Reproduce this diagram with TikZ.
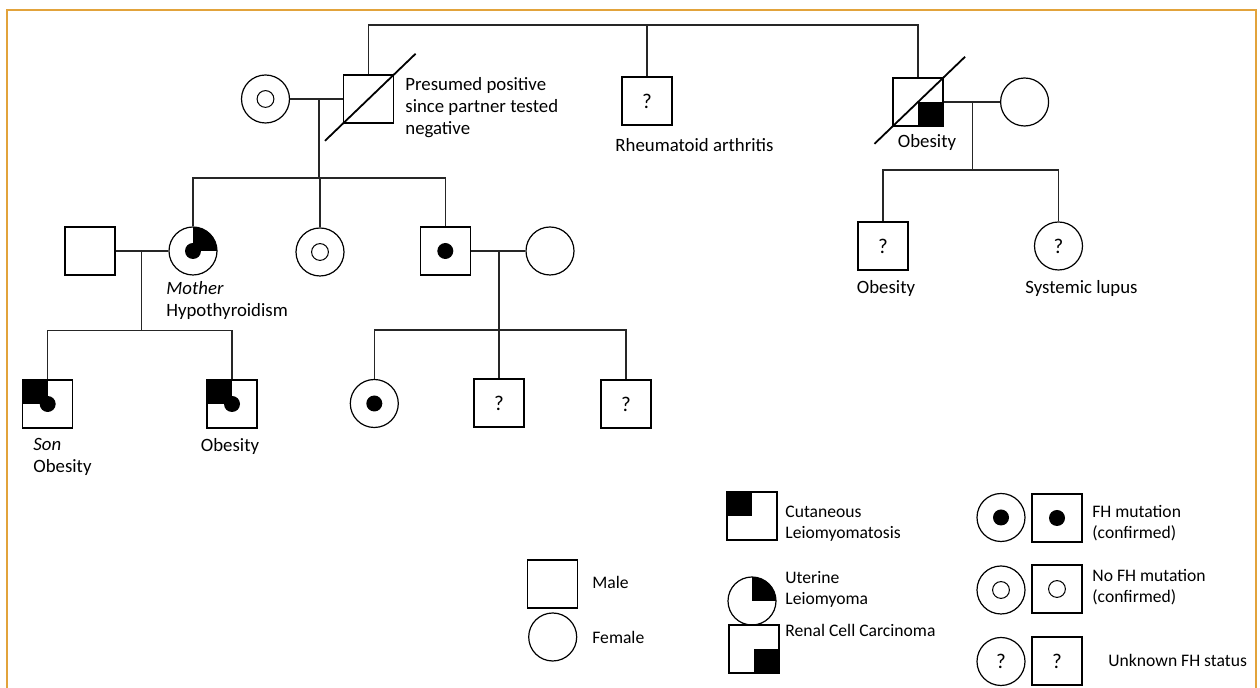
\documentclass[tikz,border=0pt]{standalone}
\usepackage{fontspec}
\setmainfont{Carlito}
\usetikzlibrary{calc}
\definecolor{framegold}{HTML}{E2A33B}
\tikzset{
  male/.style={draw, rectangle, line width=0.6pt, minimum width=25pt, minimum height=24pt,
    inner sep=0pt, font=\fontsize{10.5}{12}\selectfont},
  female/.style={draw, circle, line width=0.6pt, minimum size=24pt,
    inner sep=0pt, font=\fontsize{10.5}{12}\selectfont},
  fhpos/.style={path picture={\fill (path picture bounding box.center) circle (4pt);}},
  fhneg/.style={path picture={\draw[line width=0.5pt] (path picture bounding box.center) circle (4.2pt);}},
  cutan/.style={path picture={\fill (path picture bounding box.north west) rectangle (path picture bounding box.center);}},
  cutanpos/.style={path picture={
      \fill (path picture bounding box.north west) rectangle (path picture bounding box.center);
      \fill (path picture bounding box.center) circle (4pt);}},
  uter/.style={path picture={\fill (path picture bounding box.center) rectangle (path picture bounding box.north east);}},
  uterpos/.style={path picture={
      \fill (path picture bounding box.center) rectangle (path picture bounding box.north east);
      \fill (path picture bounding box.center) circle (4pt);}},
  renal/.style={path picture={\fill (path picture bounding box.center) rectangle (path picture bounding box.south east);}},
  txt/.style={font=\fontsize{9.4}{10.8}\selectfont, inner sep=0pt, align=left},
  legtxt/.style={txt, font=\fontsize{8.8}{10.6}\selectfont, anchor=west},
  link/.style={line width=0.55pt, black!85},
  slash/.style={line width=0.9pt},
  frame/.style={framegold, line width=1.2pt}
}
\begin{document}
\begin{tikzpicture}[x=0.5pt,y=-0.5pt]
  \useasboundingbox (0,0) rectangle (1260,688);
  \draw[frame] (7,688) -- (7,10) -- (1256,10) -- (1256,688);

  % generation I
  \node[female, fhneg] (g1f) at (265.5,99) {};
  \node[male] (g1m) at (368.5,99) {};
  \node[male] (g1u) at (647,101) {?};
  \node[male, renal] (g1r) at (918,102) {};
  \node[female] (g1rw) at (1024.6,102) {};

  % generation II
  \node[male] (g2h) at (90,251) {};
  \node[female, uterpos] (g2a) at (193,251) {};
  \node[female, fhneg] (g2c) at (320,252) {};
  \node[male, fhpos] (g2d) at (445.3,251) {};
  \node[female] (g2w) at (550,251) {};
  \node[male] (g2r1) at (883,246) {?};
  \node[female] (g2r2) at (1058.5,246) {?};

  % generation III
  \node[male, cutanpos] (g3a) at (47.7,404) {};
  \node[male, cutanpos] (g3b) at (232,404) {};
  \node[female, fhpos] (g3c) at (374.3,403.5) {};
  \node[male] (g3d) at (499,403) {?};
  \node[male] (g3e) at (626,404) {?};

  % deceased
  \draw[slash] ($(g1m.south west)!-0.35!(g1m.north east)$) -- ($(g1m.south west)!1.42!(g1m.north east)$);
  \draw[slash] ($(g1r.south west)!-0.35!(g1r.north east)$) -- ($(g1r.south west)!1.42!(g1r.north east)$);

  % lines
  \coordinate (top) at (644,25);
  \coordinate (m1) at (319,99);
  \coordinate (s1) at (319,178);
  \coordinate (m2) at (141.6,251);
  \coordinate (s2) at (141.6,330.7);
  \coordinate (m3) at (499,251);
  \coordinate (s3) at (499,330);
  \coordinate (m4) at (972.3,102);
  \coordinate (s4) at (972.3,170);
  \begin{scope}[link]
    \draw (g1m.north) |- (top) -| (g1r.north);
    \draw (g1u.north) -- (g1u.north |- top);
    \draw (g1f.east) -- (g1m.west);
    \draw (m1) -- (s1);
    \draw (g2a.north) |- (s1) -| (g2d.north);
    \draw (g2c.north) -- (g2c.north |- s1);
    \draw (g1r.east) -- (g1rw.west);
    \draw (m4) -- (s4);
    \draw (g2r1.north) |- (s4) -| (g2r2.north);
    \draw (g2h.east) -- (g2a.west);
    \draw (m2) -- (s2);
    \draw (g3a.north) |- (s2) -| (g3b.north);
    \draw (g2d.east) -- (g2w.west);
    \draw (m3) -- (s3) -- (g3d.north);
    \draw (g3c.north) |- (s3) -| (g3e.north);
  \end{scope}

  % labels
  \node[txt, anchor=west] (tpres) at (405,107.5) {Presumed positive\\since partner tested\\negative};
  \node[txt] (trheu) at (694.5,145) {Rheumatoid arthritis};
  \node[txt] (tob1) at (927,142) {Obesity};
  \node[txt, anchor=west] (tmoth) at (166,300.5) {\textit{Mother}\\Hypothyroidism};
  \node[txt, anchor=west] (tson) at (33,457) {\textit{Son}\\Obesity};
  \node[txt] (tob2) at (230,446) {Obesity};
  \node[txt] (tob3) at (886,288) {Obesity};
  \node[txt, anchor=west] (tlupus) at (1025,288) {Systemic lupus};

  % legend
  \node[male] (lgm) at (552.4,584) {};
  \node[female] (lgf) at (552.7,637) {};
  \node[male, cutan] (lgc) at (752,516) {};
  \node[female, uter] (lgu) at (752,601) {};
  \node[male, renal] (lgr) at (754,649) {};
  \node[female, fhpos] (lgfc) at (1001,517.5) {};
  \node[male, fhpos] (lgfs) at (1057,518) {};
  \node[female, fhneg] (lgnc) at (1001,590) {};
  \node[male, fhneg] (lgns) at (1057,589) {};
  \node[female] (lgqc) at (1001,661.5) {?};
  \node[male] (lgqs) at (1057,661) {?};
  \node[legtxt] (tmale) at (592,582) {Male};
  \node[legtxt] (tfem) at (592,637) {Female};
  \node[legtxt] (tcut) at (785,524) {Cutaneous\\Leiomyomatosis};
  \node[legtxt] (tute) at (785,589) {Uterine\\Leiomyoma};
  \node[legtxt] (tren) at (785,630) {Renal Cell Carcinoma};
  \node[legtxt] (tfh) at (1092,523) {FH mutation\\(confirmed)};
  \node[legtxt] (tnofh) at (1092,587) {No FH mutation\\(confirmed)};
  \node[legtxt] (tunk) at (1108,660) {Unknown FH status};
\end{tikzpicture}
\end{document}
